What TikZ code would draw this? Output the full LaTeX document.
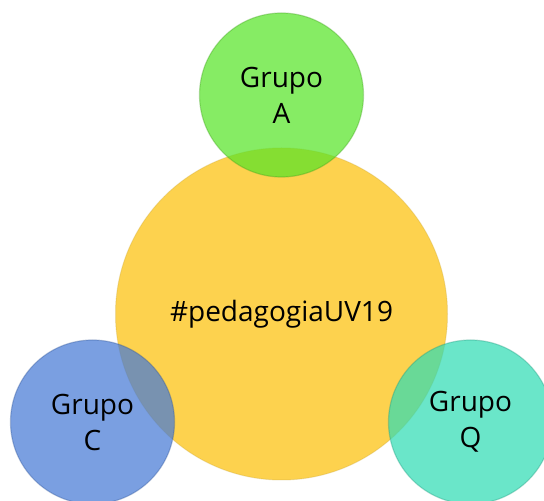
\documentclass[tikz,border=0pt]{standalone}
\usepackage{fontspec}
\setmainfont{Open Sans}
\usepackage{tikz}
\usetikzlibrary{positioning}
\definecolor{hubyellow}{RGB}{253,210,78}
\definecolor{grupogreen}{RGB}{88,228,40}
\definecolor{grupoblue}{RGB}{70,122,214}
\definecolor{grupoteal}{RGB}{48,220,180}
\tikzstyle{hub} = [circle, minimum size=332pt, inner sep=0pt, fill=hubyellow, draw=hubyellow!80!black, draw opacity=0.3, line width=1pt, text centered, font=\fontsize{28}{36}\selectfont]
\tikzstyle{grupo} = [circle, minimum size=164pt, inner sep=0pt, fill opacity=0.72, text opacity=1, line width=1.2pt, draw opacity=0.35, align=center, font=\fontsize{28}{36}\selectfont]

\begin{document}
\begin{tikzpicture}[on grid, x=1pt, y=1pt]
\useasboundingbox (0,0) rectangle (544,501);
\node(H)[hub] at (281.5,187) {\#pedagogiaUV19};
\node(A)[grupo, fill=grupogreen, draw=grupogreen!70!black, above=219pt of H] {Grupo\\A};
\node(C)[grupo, fill=grupoblue, draw=grupoblue!70!black, below left=108pt and 189pt of H] {Grupo\\C};
\node(Q)[grupo, fill=grupoteal, draw=grupoteal!70!black, below right=108pt and 189pt of H] {Grupo\\Q};
\end{tikzpicture}
\end{document}
